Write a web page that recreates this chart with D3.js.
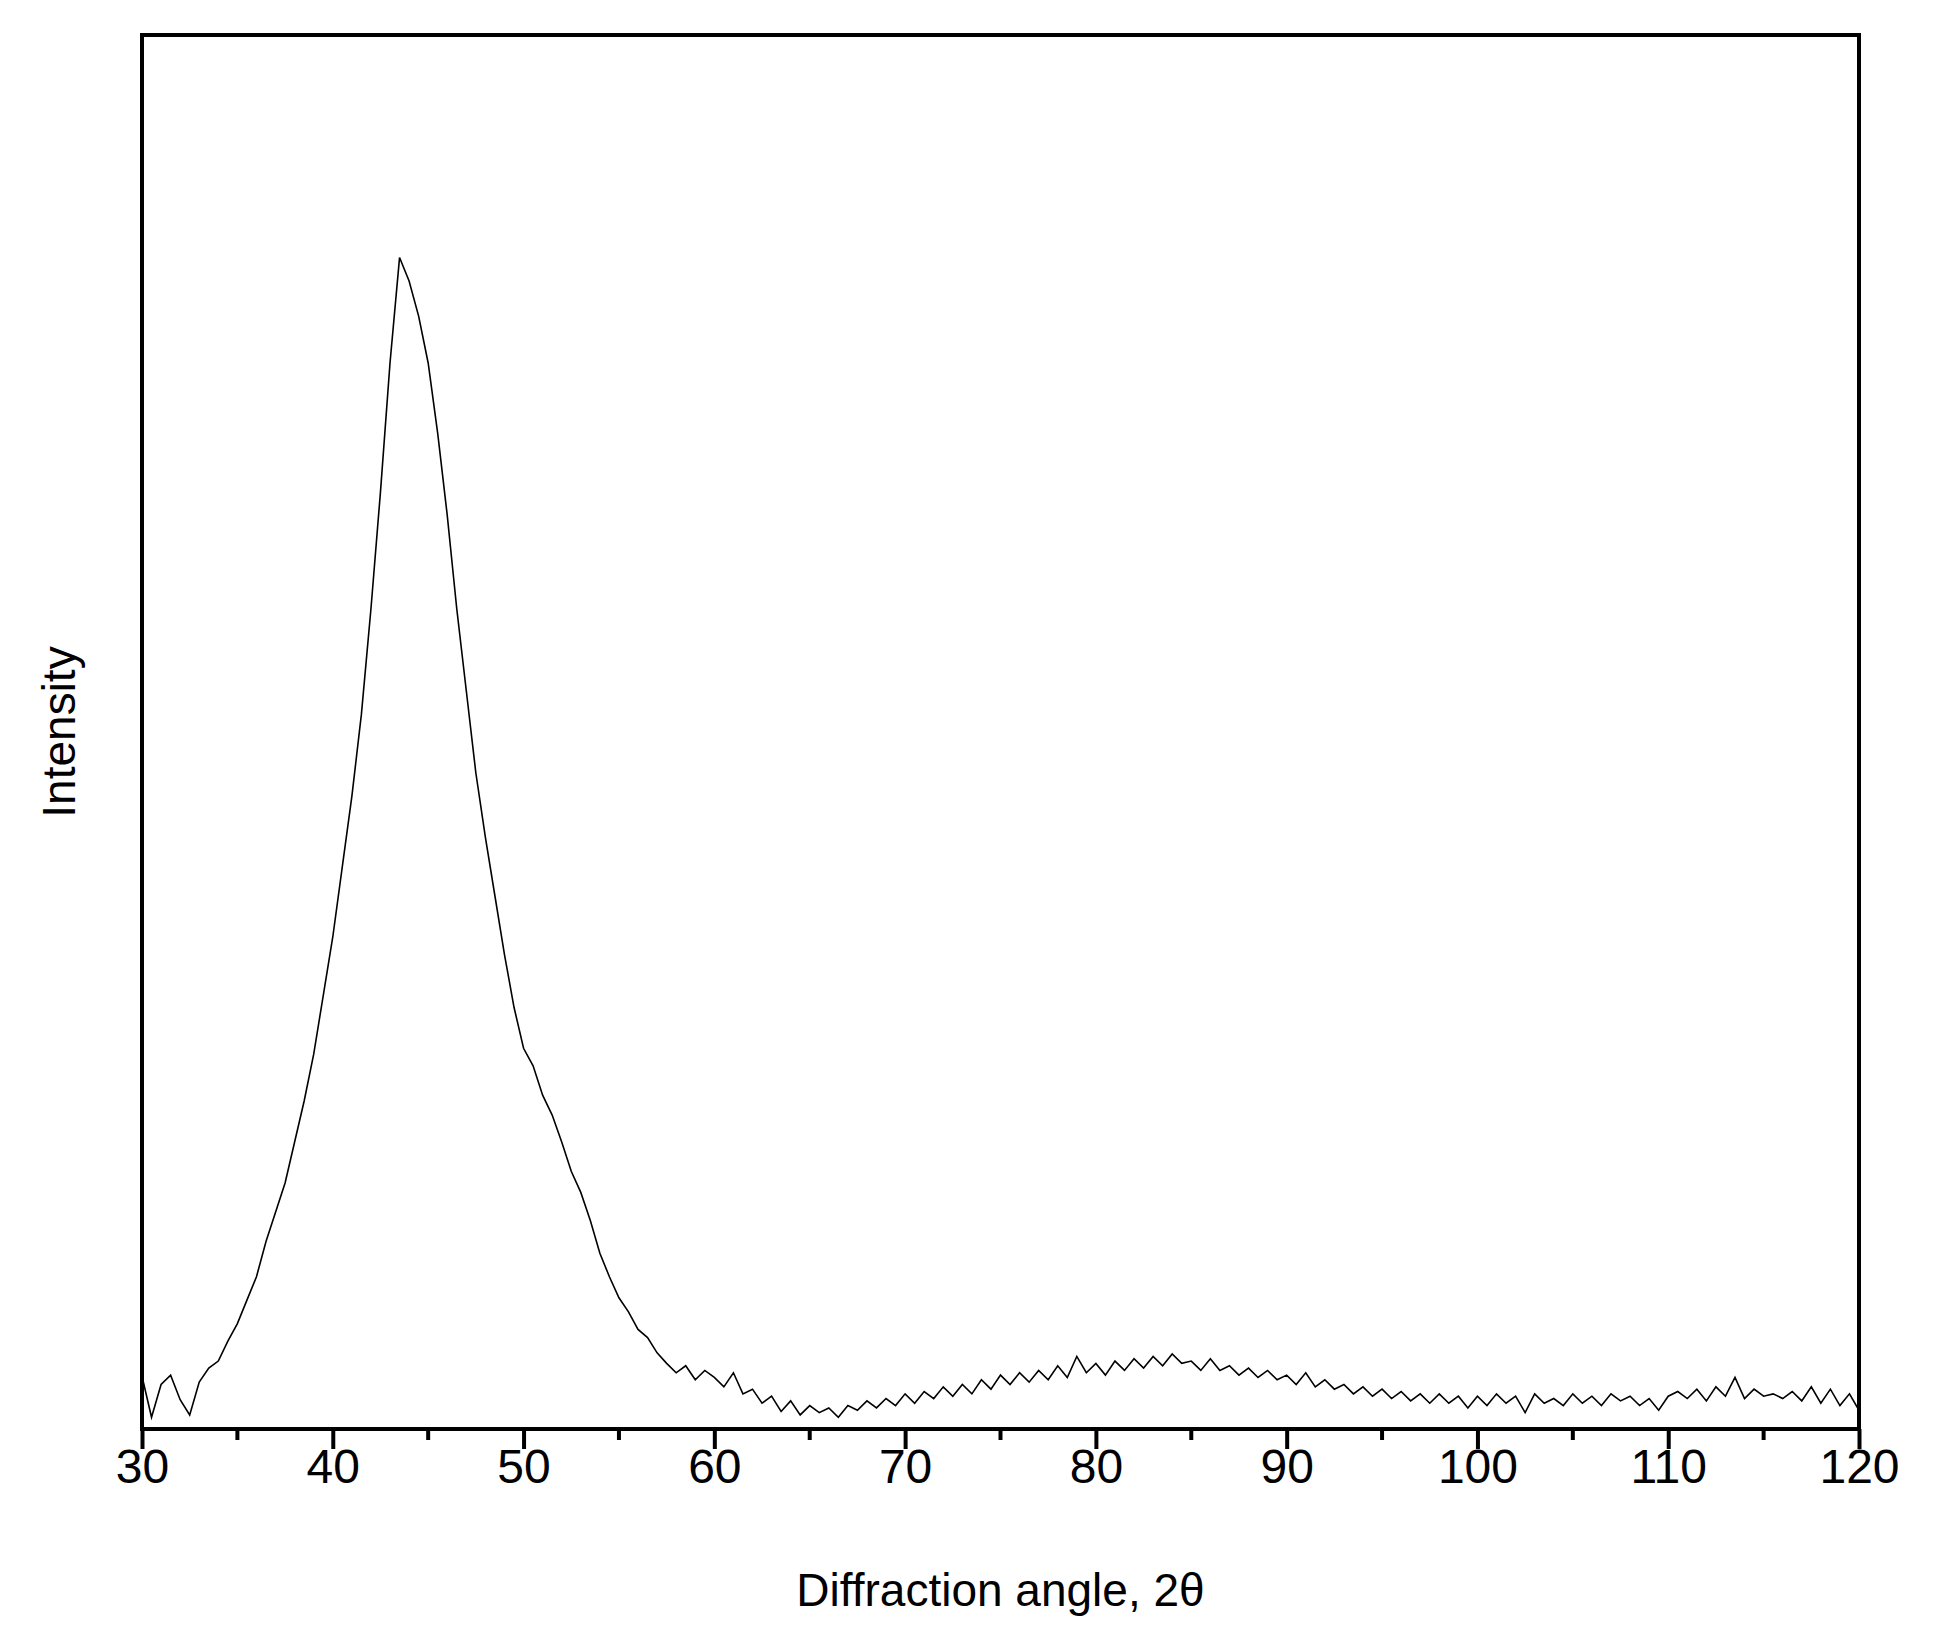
<!DOCTYPE html>
<html><head><meta charset="utf-8">
<script src="https://cdn.jsdelivr.net/npm/d3@7"></script>
<style>body{margin:0;background:#fff}</style></head>
<body><svg id="c" width="1934" height="1646"></svg>
<script>
const angleStart = 30, angleStep = 0.5;
const intensity = [4.5,1.0,3.8,4.6,2.5,1.2,4.0,5.2,5.8,7.5,9.0,11.0,13.0,16.0,18.5,21.0,24.5,28.0,32.0,37.0,42.0,48.0,54.0,61.0,70.0,80.0,91.0,100.0,98.0,95.0,91.0,85.0,78.0,70.0,63.0,56.0,50.5,45.5,40.5,36.0,32.5,31.0,28.5,26.8,24.5,22.0,20.2,17.8,15.0,13.0,11.2,10.0,8.5,7.8,6.5,5.6,4.8,5.4,4.2,5.0,4.4,3.6,4.8,3.0,3.4,2.2,2.8,1.5,2.4,1.2,2.0,1.4,1.8,1.0,2.0,1.6,2.4,1.8,2.6,2.0,3.0,2.2,3.2,2.6,3.6,2.8,3.8,3.0,4.2,3.4,4.6,3.8,4.8,4.0,5.0,4.2,5.4,4.4,6.2,4.8,5.6,4.6,5.8,5.0,6.0,5.2,6.2,5.4,6.4,5.6,5.8,5.0,6.0,5.0,5.4,4.6,5.2,4.4,5.0,4.2,4.6,3.8,4.8,3.6,4.2,3.4,3.8,3.0,3.6,2.8,3.4,2.6,3.2,2.4,3.0,2.2,3.0,2.2,2.8,1.8,2.8,2.0,3.0,2.2,2.8,1.4,3.0,2.2,2.6,2.0,3.0,2.2,2.8,2.0,3.0,2.4,2.8,2.0,2.6,1.6,2.8,3.2,2.6,3.4,2.4,3.6,2.8,4.4,2.6,3.4,2.8,3.0,2.6,3.2,2.4,3.6,2.2,3.4,2.0,3.0,1.6];
const xTicks = [30,40,50,60,70,80,90,100,110,120];
const xMinor = [35,45,55,65,75,85,95,105,115];

const L=142,T=35,R=1859,B=1429;
const svg=d3.select("#c");
const x=d3.scaleLinear().domain([30,120]).range([L,R]);
const y=d3.scaleLinear().domain([0,119]).range([B,T]);
const data=intensity.map((v,i)=>({a:angleStart+i*angleStep,v}));
svg.append("path").datum(data).attr("fill","none").attr("stroke","#000").attr("stroke-width",1.6)
  .attr("d",d3.line().x(d=>x(d.a)).y(d=>y(d.v)));
svg.append("rect").attr("x",L).attr("y",T).attr("width",R-L).attr("height",B-T)
  .attr("fill","none").attr("stroke","#000").attr("stroke-width",4);
const ax=svg.append("g").attr("transform",`translate(0,${B})`)
  .call(d3.axisBottom(x).tickValues(xTicks).tickSize(20).tickPadding(0).tickFormat(d3.format("d")));
ax.select(".domain").remove();
ax.selectAll("line").attr("stroke-width",4);
ax.selectAll("text").attr("font-family","Liberation Sans, Arial").attr("font-size",48).attr("fill","#000");
svg.append("g").selectAll("line").data(xMinor).join("line")
  .attr("x1",d=>x(d)).attr("x2",d=>x(d)).attr("y1",B).attr("y2",B+11).attr("stroke","#000").attr("stroke-width",4);
svg.append("text").attr("x",(L+R)/2).attr("y",1606).attr("text-anchor","middle")
  .attr("font-family","Liberation Sans, Arial").attr("font-size",46).text("Diffraction angle, 2θ");
svg.append("text").attr("transform",`translate(75,${(T+B)/2}) rotate(-90)`).attr("text-anchor","middle")
  .attr("font-family","Liberation Sans, Arial").attr("font-size",46).text("Intensity");
</script></body></html>
